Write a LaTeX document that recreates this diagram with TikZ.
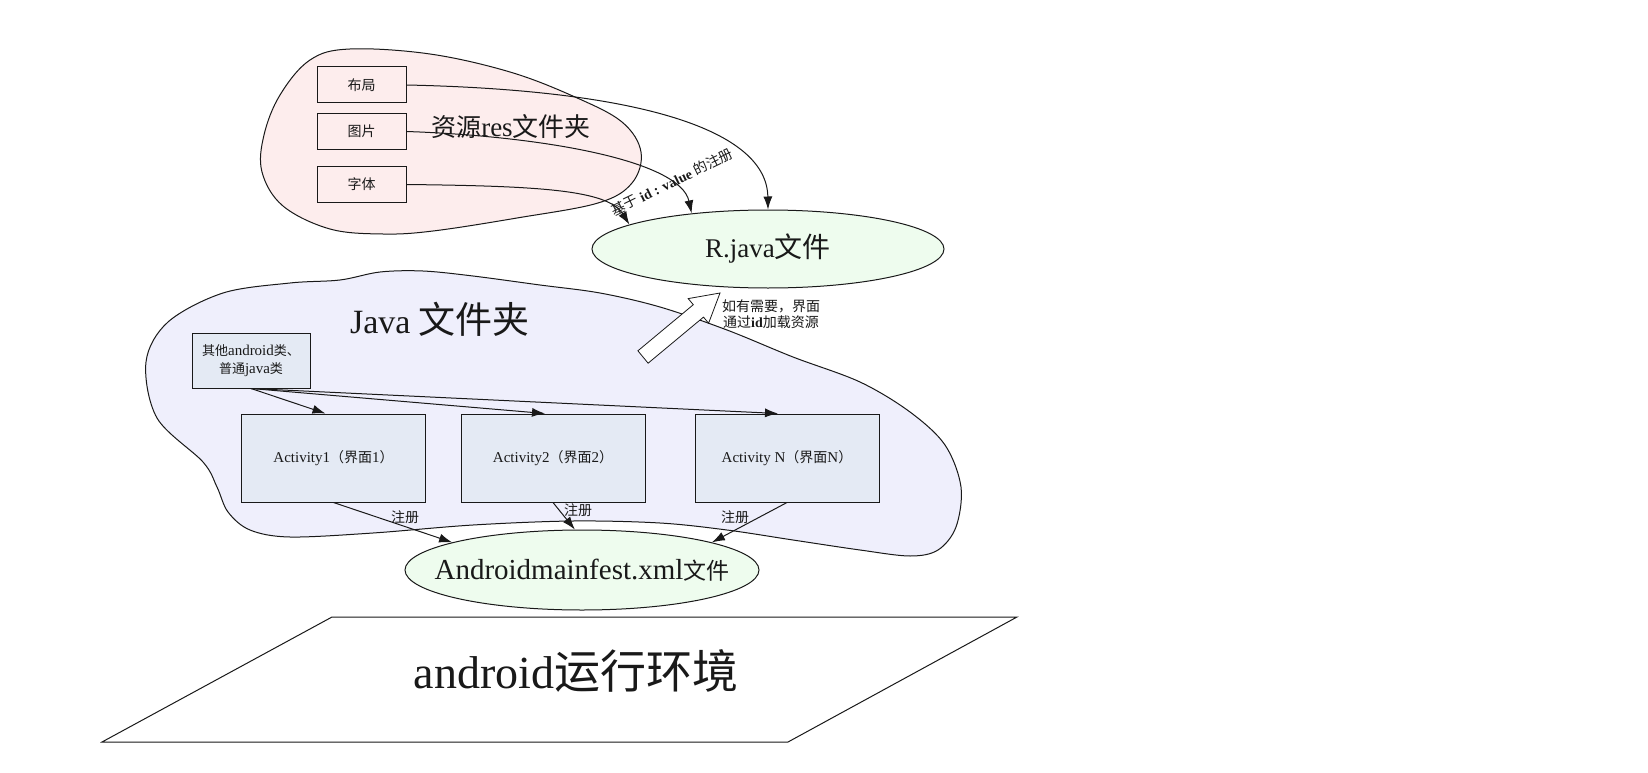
\documentclass[tikz,border=0pt]{standalone}
\usepackage{fontspec}
\setmainfont{Liberation Serif}
\newfontfamily\cjk{Noto Sans CJK SC}
\usetikzlibrary{arrows.meta,shapes.geometric}
\definecolor{respink}{RGB}{253,237,237}
\definecolor{javabg}{RGB}{239,239,252}
\definecolor{ellgreen}{RGB}{238,252,238}
\definecolor{actbg}{RGB}{228,234,244}
\definecolor{ink}{RGB}{25,25,25}
\newcommand\zh[1]{{\cjk #1}}
\newcommand\zhs[2]{{\fontsize{#1}{#1}\selectfont\cjk #2}}
\newcommand\fsz[1]{\fontsize{#1}{#1}\selectfont}
\begin{document}
\begin{tikzpicture}[x=1pt,y=-1pt,line width=1pt,draw=ink,text=ink,
  resbox/.style={draw, fill=respink, minimum width=89pt, minimum height=36pt, inner sep=0pt, font={\fsz{14}}},
  actbox/.style={draw, fill=actbg, minimum width=184pt, minimum height=88pt, inner sep=0pt, font={\fsz{15}}},
  qbox/.style={draw, fill=actbg, minimum width=118pt, minimum height=55pt, inner sep=0pt, align=center, font={\fsz{15}}},
  ell/.style={draw, ellipse, fill=ellgreen, inner sep=0pt},
  arr/.style={-{Latex[length=13pt,width=9pt]}},
  lab/.style={font={\fsz{14}}, inner sep=0pt}]
\fill[white] (0,0) rectangle (1648,773);
\useasboundingbox (0,0) rectangle (1648,773);

% resource folder blob
\draw[fill=respink] plot[smooth cycle, tension=0.6] coordinates {(350,49) (430,54) (510,72) (575,97) (622,122) (641,152) (632,183) (598,203) (517,218) (433,231) (383,234) (330,229) (283,206) (262,172) (264,135) (280,95) (310,60)};

% java folder blob
\draw[fill=javabg] plot[smooth cycle, tension=0.55] coordinates {(146,362) (168,322) (223,293) (290,283) (340,280) (380,272) (423,271) (473,276) (540,285) (600,293) (660,307) (727,330) (793,357) (860,382) (910,412) (945,445) (961,487) (956,527) (938,550) (910,556) (860,550) (793,540) (727,530) (660,523) (573,521) (473,525) (373,533) (290,537) (250,530) (228,512) (217,487) (203,462) (157,418)};

% resource boxes
\node[resbox] (bj) at (361.5,85) {\zh{布局}};
\node[resbox] (tp) at (361.5,131.5) {\zh{图片}};
\node[resbox] (zt) at (361.5,184.5) {\zh{字体}};
\node[inner sep=0pt] (reslbl) at (511,127) {\zhs{25}{资源}\fsz{27}res\zhs{26}{文件夹}};

% R.java
\node[ell, minimum width=352pt, minimum height=78pt] (rjava) at (768,249) {};
\node[inner sep=0pt] (rjavatxt) at (rjava.center) {\fsz{27}R.java\zhs{28}{文件}};

% java folder content
\node[inner sep=0pt] (javalbl) at (440,319) {\fsz{34}Java \zhs{37}{文件夹}};
\node[qbox] (qita) at (251,360.5) {\zhs{13}{其他}android\zhs{13}{类、}\\[3pt]\zhs{13}{普通}java\zhs{13}{类}};
\node[actbox] (act1) at (333.5,458) {Activity1\zhs{14}{（界面}1\zhs{14}{）}};
\node[actbox] (act2) at (553,458) {Activity2\zhs{14}{（界面}2\zhs{14}{）}};
\node[actbox] (actn) at (787,458) {Activity N\zhs{14}{（界面}N\zhs{14}{）}};

% manifest
\node[ell, minimum width=354pt, minimum height=80pt] (mani) at (582,570) {};
\node[inner sep=0pt] (manitxt) at (mani.center) {\fsz{29}Androidmainfest.xml\zhs{23}{文件}};

% runtime environment
\draw[fill=white] (332,617) -- (1017,617) -- (788,742) -- (102,742) -- cycle;
\node[inner sep=0pt] (env) at (576,671) {\fsz{46}android\zh{运行环境}};

% arrows resources -> R.java
\draw[arr] (bj.east) .. controls (640,90) and (767,130) .. (rjava.90);
\draw[arr] (tp.east) .. controls (540,136) and (680,160) .. (rjava.155);
\draw[arr] (zt.east) .. controls (540,186) and (608,190) .. (rjava.170);
\node[lab, rotate=26] (idlbl) at (672,182) {\zh{基于} \textbf{id : value} \zh{的注册}};

% hollow arrow
\draw[fill=white, line width=0.8pt] (637.9,350.8) -- (693.3,304.7) -- (688.2,298.6) -- (720,293) -- (708.6,323.2) -- (703.5,317.1) -- (648.1,363.2) -- cycle;
\node[lab, align=center] (loadlbl) at (771,314) {\zh{如有需要，界面}\\[2pt]\zh{通过}\textbf{id}\zh{加载资源}};

% other classes -> activities
\draw[arr] (qita.south) -- ([xshift=-8pt]act1.north);
\draw[arr] (qita.south) -- ([xshift=-8pt]act2.north);
\draw[arr] (qita.south) -- ([xshift=-9pt]actn.north);

% activities -> manifest
\draw[arr] (act1.south) -- (mani.168);
\draw[arr] (act2.south) -- (mani.100);
\draw[arr] (actn.south) -- (mani.12);
\node[lab] (r1) at (405,517) {\zh{注册}};
\node[lab] (r2) at (578,510) {\zh{注册}};
\node[lab] (r3) at (735,517) {\zh{注册}};
\end{tikzpicture}
\end{document}
